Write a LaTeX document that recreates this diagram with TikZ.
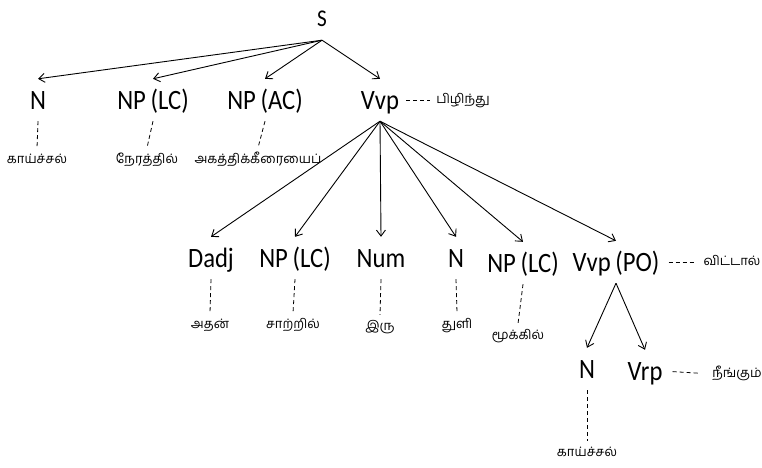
\documentclass[tikz,border=0pt]{standalone}
\usepackage{fontspec}
\usetikzlibrary{arrows.meta}
\newfontfamily\treefont[FakeStretch=0.88]{Carlito}
\newfontfamily\tamfont[Script=Tamil]{Hind Madurai}
\begin{document}
\begin{tikzpicture}[x=1pt,y=-1pt,
  cat/.style={font=\treefont\fontsize{28}{28}\selectfont, inner sep=0pt, text height=18pt, text depth=0pt, minimum height=42pt},
  topcat/.style={cat, font=\treefont\fontsize{24}{24}\selectfont, text height=15.5pt},
  tam/.style={font=\tamfont\fontsize{13}{13}\selectfont, inner sep=0pt, text height=9pt, text depth=3pt, minimum height=24pt},
  arr/.style={line width=0.9pt, -{Straight Barb[length=6pt,width=9pt]}},
  dsh/.style={line width=0.8pt, dash pattern=on 4pt off 3pt}]
\useasboundingbox (0,0) rectangle (762,467);
% level 0
\node[topcat] (S) at (322,19) {S};
% level 1
\node[cat] (n1) at (38,100) {N};
\node[cat] (np1) at (153,100) {NP\,(LC)};
\node[cat] (np2) at (265,100) {NP\,(AC)};
\node[cat] (vvp) at (380,100) {Vvp};
\node[tam] (t1) at (37,160) {காய்ச்சல்};
\node[tam] (t2) at (147,160) {நேரத்தில்};
\node[tam] (t3) at (258,160) {அகத்திக்கீரையைப்};
\node[tam] (t4) at (463,100) {பிழிந்து};
\draw[arr] (S.south) -- (n1.north);
\draw[arr] (S.south) -- (np1.north);
\draw[arr] (S.south) -- (np2.north);
\draw[arr] (S.south) -- (vvp.north);
\draw[dsh] (n1.south) -- (t1.north);
\draw[dsh] (np1.south) -- (t2.north);
\draw[dsh] (np2.south) -- (t3.north);
\draw[dsh, shorten <=7pt, shorten >=6pt] (vvp.east) -- (t4.west);
% level 2
\node[cat] (dadj) at (211,258) {Dadj};
\node[cat] (np3) at (295,258) {NP\,(LC)};
\node[cat] (num) at (381,258) {Num};
\node[cat] (n2) at (456,258) {N};
\node[cat] (np4) at (523,263) {NP\,(LC)};
\node[cat] (vpo) at (616,262) {Vvp\,(PO)};
\node[tam] (t5) at (210,325) {அதன்};
\node[tam] (t6) at (293,325) {சாற்றில்};
\node[tam] (t7) at (380,327) {இரு};
\node[tam] (t8) at (457,325) {துளி};
\node[tam] (t9) at (518,336) {மூக்கில்};
\node[tam] (t10) at (732,262) {விட்டால்};
\draw[arr] (vvp.south) -- (dadj.north);
\draw[arr] (vvp.south) -- (np3.north);
\draw[arr] (vvp.south) -- (num.north);
\draw[arr] (vvp.south) -- (n2.north);
\draw[arr] (vvp.south) -- (np4.north);
\draw[arr] (vvp.south) -- (vpo.north);
\draw[dsh] (dadj.south) -- (t5.north);
\draw[dsh] (np3.south) -- (t6.north);
\draw[dsh] (num.south) -- (t7.north);
\draw[dsh] (n2.south) -- (t8.north);
\draw[dsh] (np4.south) -- (t9.north);
\draw[dsh, shorten <=9pt, shorten >=8pt] (vpo.east) -- (t10.west);
% level 3
\node[cat] (n3) at (587,369) {N};
\node[cat] (vrp) at (645,371) {Vrp};
\node[tam] (t11) at (587,453) {காய்ச்சல்};
\node[tam] (t12) at (737,374) {நீங்கும்};
\draw[arr] (vpo.south) -- (n3.north);
\draw[arr] (vpo.south) -- (vrp.north);
\draw[dsh] (n3.south) -- (t11.north);
\draw[dsh, shorten <=10pt, shorten >=12pt] (vrp.east) -- (t12.west);
\end{tikzpicture}
\end{document}
